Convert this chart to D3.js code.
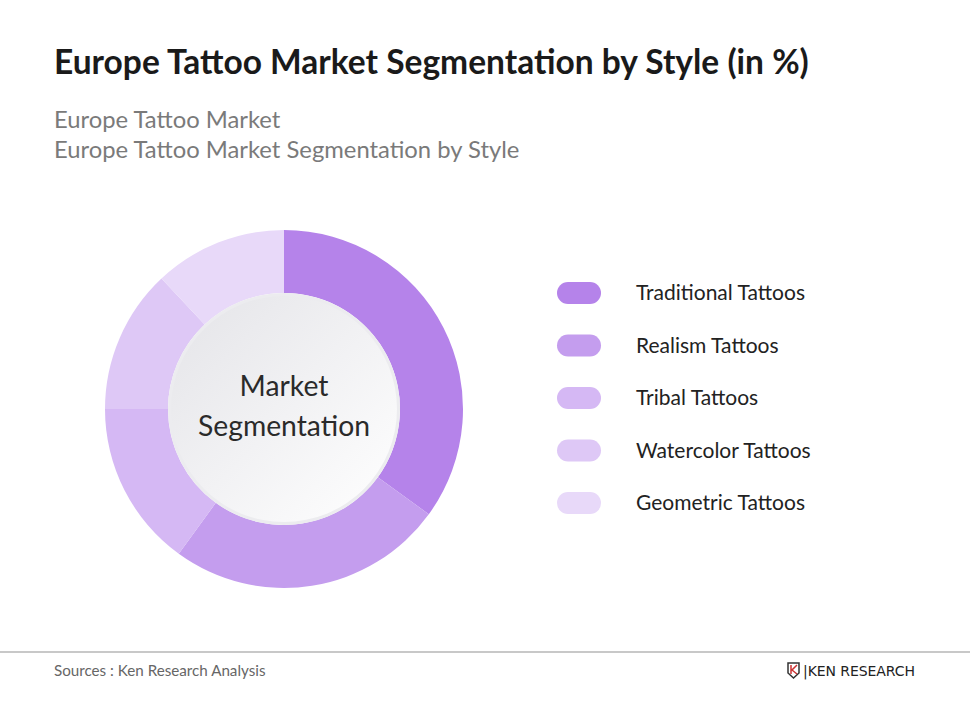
<!DOCTYPE html>
<html><head><meta charset="utf-8">
<script src="https://cdn.jsdelivr.net/npm/d3@7"></script>
<style>body{margin:0;background:#fff}svg{display:block;font-family:Lato,sans-serif}</style>
</head><body><svg id="c" width="970" height="727"></svg>
<script>
const categories = ["Traditional Tattoos","Realism Tattoos","Tribal Tattoos","Watercolor Tattoos","Geometric Tattoos"];
const values = [35,25,15,13,12];
const colors = ["#b583ea","#c49dee","#d5b8f4","#dec8f6","#e8d9f9"];

const svg = d3.select("#c");
svg.append("text").attr("x",54).attr("y",74).attr("font-size",33.5).attr("font-weight",700).attr("fill","#1a1a1a").text("Europe Tattoo Market Segmentation by Style (in %)");
svg.append("text").attr("x",54).attr("y",128).attr("font-size",23.8).attr("fill","#7a7a7a").text("Europe Tattoo Market");
svg.append("text").attr("x",54).attr("y",158).attr("font-size",23.8).attr("fill","#7a7a7a").text("Europe Tattoo Market Segmentation by Style");

const cx=284, cy=409, R=179, r=116;
const pie = d3.pie().sort(null).value(d=>d)(values);
const arc = d3.arc().innerRadius(r).outerRadius(R);
const g = svg.append("g").attr("transform",`translate(${cx},${cy})`);
g.selectAll("path").data(pie).join("path").attr("d",arc).attr("fill",(d,i)=>colors[i]);

const defs = svg.append("defs");
const gr = defs.append("linearGradient").attr("id","cg").attr("x1","0").attr("y1","0").attr("x2","1").attr("y2","1");
gr.append("stop").attr("offset","0").attr("stop-color","#e4e4e8");
gr.append("stop").attr("offset","1").attr("stop-color","#ffffff");
g.append("circle").attr("r",r).attr("fill","#ececef");
g.append("circle").attr("r",r-3).attr("fill","url(#cg)");
g.append("text").attr("text-anchor","middle").attr("y",-13).attr("font-size",28.3).attr("fill","#2a2a2a").text("Market");
g.append("text").attr("text-anchor","middle").attr("y",27).attr("font-size",28.3).attr("fill","#2a2a2a").text("Segmentation");

const y = d3.scalePoint().domain(categories).range([293,503]);
const lg = svg.append("g");
categories.forEach((c,i)=>{
  lg.append("rect").attr("x",557).attr("y",y(c)-11).attr("width",44).attr("height",22).attr("rx",11).attr("fill",colors[i]);
  lg.append("text").attr("x",636).attr("y",y(c)+7).attr("font-size",21).attr("fill","#222").text(c);
});

svg.append("line").attr("x1",0).attr("x2",970).attr("y1",652).attr("y2",652).attr("stroke","#c8c8c8").attr("stroke-width",2);
svg.append("text").attr("x",54).attr("y",676).attr("font-size",15.2).attr("fill","#666").text("Sources : Ken Research Analysis");
const lgG = svg.append("g").attr("transform","translate(788,663)");
lgG.append("path").attr("d","M0,0 L11,0 L11,10 L5.5,15 L0,10 Z").attr("fill","none").attr("stroke","#333").attr("stroke-width",1.5);
lgG.append("path").attr("d","M3,2 L3,11 M9,2 L4,7 L9,11").attr("fill","none").attr("stroke","#c33").attr("stroke-width",1.5);
svg.append("text").attr("x",803).attr("y",676).attr("font-size",14).attr("font-family","'DejaVu Sans',sans-serif").attr("fill","#222").attr("textLength",112).text("|KEN RESEARCH");
</script></body></html>
